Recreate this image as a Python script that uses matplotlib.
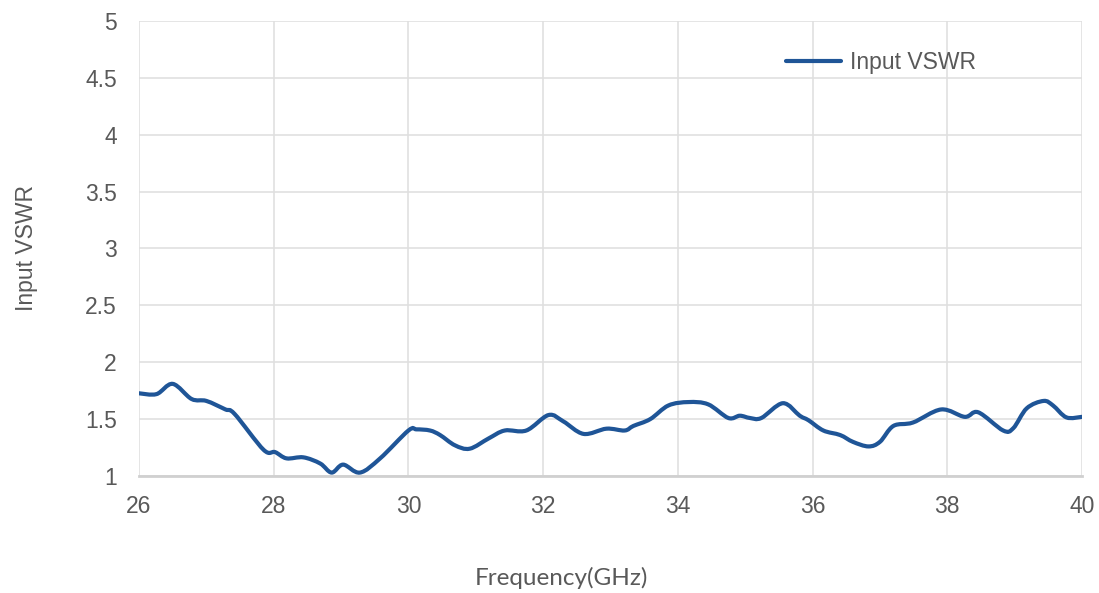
import numpy as np
import matplotlib.pyplot as plt
from matplotlib.path import Path
from matplotlib.patches import PathPatch
from matplotlib.lines import Line2D

# values
freq = [26.0, 26.26, 26.5, 26.78, 27.0, 27.28, 27.42, 27.85, 28.02, 28.19,
        28.44, 28.69, 28.86, 29.03, 29.28, 29.58, 30.0, 30.12, 30.32, 30.47,
        30.69, 30.91, 31.19, 31.43, 31.75, 32.08, 32.3, 32.6, 32.94, 33.21,
        33.34, 33.59, 33.86, 34.16, 34.45, 34.75, 34.92, 35.07, 35.24, 35.56,
        35.81, 35.94, 36.16, 36.41, 36.6, 36.83, 37.0, 37.2, 37.49, 37.91,
        38.26, 38.46, 38.83, 38.98, 39.18, 39.43, 39.57, 39.77, 40.0]
vswr = [1.727, 1.72, 1.81, 1.677, 1.66, 1.586, 1.545, 1.23, 1.21, 1.155,
        1.164, 1.11, 1.03, 1.10, 1.03, 1.155, 1.40, 1.41, 1.40, 1.36,
        1.27, 1.24, 1.33, 1.40, 1.40, 1.536, 1.48, 1.37, 1.416, 1.40,
        1.44, 1.50, 1.62, 1.65, 1.63, 1.51, 1.53, 1.51, 1.51, 1.64,
        1.53, 1.49, 1.40, 1.36, 1.30, 1.26, 1.30, 1.44, 1.47, 1.585,
        1.52, 1.56, 1.40, 1.42, 1.595, 1.66, 1.62, 1.515, 1.52]

xticks = np.arange(26, 41, 2)
yticks = [1, 1.5, 2, 2.5, 3, 3.5, 4, 4.5, 5]
ylabels = ['1', '1.5', '2', '2.5', '3', '3.5', '4', '4.5', '5']

line_color = '#1f5597'
text_color = '#595959'

plt.rcParams['font.family'] = ['Liberation Sans', 'DejaVu Sans']

fig = plt.figure(figsize=(10.99, 5.93), dpi=100)
ax = fig.add_axes([0.1265, 0.1973, 0.858, 0.7673])


def smooth_path(xs, ys, t=1 / 6):
    # Excel-style smoothed line: cubic bezier segments through the points
    xs = np.asarray(xs, float)
    ys = np.asarray(ys, float)
    n = len(xs)
    verts = [(xs[0], ys[0])]
    codes = [Path.MOVETO]
    for i in range(n - 1):
        p0 = i - 1 if i > 0 else i
        p3 = i + 2 if i + 2 < n else i + 1
        c1 = (xs[i] + (xs[i + 1] - xs[p0]) * t, ys[i] + (ys[i + 1] - ys[p0]) * t)
        c2 = (xs[i + 1] - (xs[p3] - xs[i]) * t, ys[i + 1] - (ys[p3] - ys[i]) * t)
        verts += [c1, c2, (xs[i + 1], ys[i + 1])]
        codes += [Path.CURVE4] * 3
    return Path(verts, codes)


patch = PathPatch(smooth_path(freq, vswr), facecolor='none', edgecolor=line_color,
                  linewidth=3, capstyle='round', joinstyle='round')
ax.add_patch(patch)

ax.set_xlim(26, 40)
ax.set_ylim(1, 5)
ax.set_xticks(xticks)
ax.set_yticks(yticks)
ax.set_yticklabels(ylabels)

# light grid, including the edges
ax.grid(True, color='#e0e0e0', linewidth=1.2)
ax.set_axisbelow(True)
for s in ['top', 'right', 'left']:
    ax.spines[s].set_visible(False)
ax.spines['bottom'].set_color('#d0d0d0')
ax.spines['bottom'].set_linewidth(2)

ax.tick_params(axis='x', length=0, labelsize=16.5, labelcolor=text_color, pad=14)
ax.tick_params(axis='y', length=0, labelsize=16.5, labelcolor=text_color, pad=16)

ax.set_ylabel('Input VSWR', fontsize=16.5, color=text_color, labelpad=34)
fig.text(0.511, 0.025, 'Frequency(GHz)', fontsize=17.5, color=text_color,
         ha='center', va='center', family=['Lato', 'DejaVu Sans'])

handle = Line2D([], [], color=line_color, linewidth=3, solid_capstyle='round')
leg = ax.legend([handle], ['Input VSWR'], loc='upper right',
                bbox_to_anchor=(0.91, 0.98), frameon=False,
                fontsize=16.5, handlelength=2.4, handletextpad=0.4)
for t in leg.get_texts():
    t.set_color(text_color)

plt.savefig('out.png', dpi=100)
